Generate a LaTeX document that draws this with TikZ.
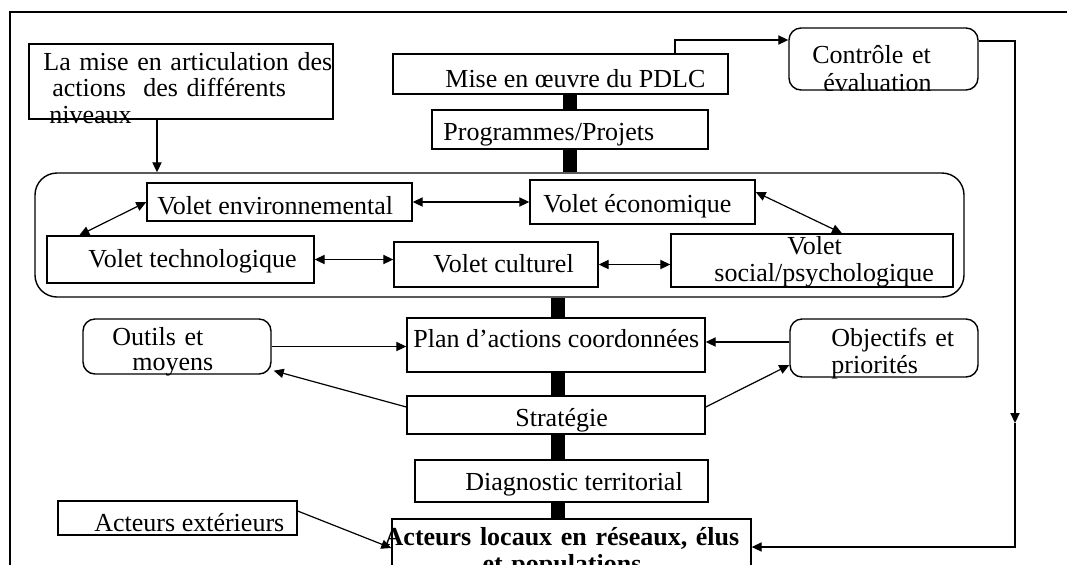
\documentclass[tikz,border=0pt]{standalone}
\usepackage{fontspec}
\setmainfont{Liberation Serif}
\usetikzlibrary{calc,arrows.meta,positioning}
\tikzset{
    box/.style={draw,line width=.7pt,inner sep=0pt},
    rbox/.style={box,rounded corners=6pt},
    txt/.style={inner sep=0pt,anchor=base west,font=\fontsize{13}{15}\selectfont},
    lines/.style={txt,text width=#1,align=left},
    bar/.style={line width=7pt},
    link/.style={line width=.6pt},
    >={Triangle[length=5pt,width=4.6pt]}
}

\begin{document}
\begin{tikzpicture}[x=.5pt,y=-.5pt]
\useasboundingbox (0,0) rectangle (1067,564);
\clip (0,0) rectangle (1067,564);
\draw[line width=1pt] (10,570) -- (10,12) -- (1070,12);

% boxes
\node[box,minimum width=152pt,minimum height=37.5pt] (lamise) at (181,81.5) {};
\node[box,minimum width=167.5pt,minimum height=20pt] (mise) at (560.5,74) {};
\node[box,minimum width=138pt,minimum height=19.5pt] (prog) at (570,129.5) {};
\node[rbox,minimum width=94.5pt,minimum height=31pt] (ctrl) at (883.5,59) {};
\node[box,rounded corners=11pt,minimum width=464.5pt,minimum height=62pt] (grp) at (499.5,235) {};
\node[box,minimum width=132.5pt,minimum height=19pt] (env) at (279.5,202) {};
\node[box,minimum width=112.5pt,minimum height=22pt] (eco) at (642.5,202) {};
\node[box,minimum width=133.5pt,minimum height=23.5pt] (tech) at (180.5,259.5) {};
\node[box,minimum width=102pt,minimum height=22.5pt] (cult) at (496,264.5) {};
\node[box,minimum width=141pt,minimum height=26.5pt] (social) at (812,260.5) {};
\node[rbox,minimum width=94pt,minimum height=27.5pt] (outils) at (177,346.5) {};
\node[box,minimum width=149pt,minimum height=27pt] (plan) at (556,345) {};
\node[rbox,minimum width=94pt,minimum height=29pt] (obj) at (884,348) {};
\node[box,minimum width=149pt,minimum height=19pt] (strat) at (556,415) {};
\node[box,minimum width=146.5pt,minimum height=21pt] (diag) at (561.5,481) {};
\node[box,minimum width=119.5pt,minimum height=17pt] (ext) at (177.5,518) {};
\node[box,minimum width=179.5pt,minimum height=40pt] (loc) at (571.5,559) {};

% texts
\node[lines=160pt,font=\fontsize{13}{13.25}\selectfont] (lamise-t) at (43,70)
    {La mise en articulation des\\\hspace*{4.5pt}actions\ \ des différents\\\hspace*{3pt}niveaux};
\node[txt] (mise-t) at (445,87) {Mise en œuvre du PDLC};
\node[txt] (prog-t) at (443,140) {Programmes/Projets};
\begin{scope}
\clip[rounded corners=6pt] (ctrl.north west) rectangle (ctrl.south east);
\node[lines=90pt,font=\fontsize{13}{14}\selectfont] (ctrl-t) at (812,63) {Contrôle et\\\hspace*{5.5pt}évaluation};
\end{scope}
\node[txt] (env-t) at (157,214) {Volet environnemental};
\node[txt] (eco-t) at (543,212) {Volet économique};
\node[txt] (tech-t) at (88,267) {Volet technologique};
\node[txt] (cult-t) at (433,272) {Volet culturel};
\node[lines=130pt,font=\fontsize{13}{13.5}\selectfont] (social-t) at (714,254) {\hspace*{36.5pt}Volet\\social/psychologique};
\node[lines=90pt,font=\fontsize{13}{12.5}\selectfont] (outils-t) at (112,345) {Outils et\\\hspace*{10pt}moyens};
\node[txt] (plan-t) at (413,347) {Plan d’actions coordonnées};
\node[lines=90pt,font=\fontsize{13}{13.5}\selectfont] (obj-t) at (831,346) {Objectifs et\\priorités};
\node[txt] (strat-t) at (515,426) {Stratégie};
\node[txt] (diag-t) at (465,490) {Diagnostic territorial};
\node[txt] (ext-t) at (94,531) {Acteurs extérieurs};
\node[txt,anchor=base,text width=190pt,align=center,font=\fontsize{13}{13.5}\selectfont\bfseries] (loc-t) at (562,545)
    {Acteurs locaux en réseaux, élus\\et populations};

% thick links
\coordinate (up) at (570,0);
\coordinate (lo) at (558,0);
\foreach \a/\b in {mise/prog,prog/grp}
    \draw[bar] (\a.south -| up) -- (\b.north -| up);
\foreach \a/\b in {grp/plan,plan/strat,strat/diag,diag/loc}
    \draw[bar] (\a.south -| lo) -- (\b.north -| lo);

% arrows
\coordinate (c1) at (157,0);
\draw[link,->] (lamise.south -| c1) -- (grp.north -| c1);
\draw[link,<->] (env.west) -- ($(tech.north west)+(33,0)$);
\draw[link,<->] (env.east) -- (eco.west);
\draw[link,<->] ($(eco.east)+(0,-10)$) -- ($(social.north)+(30,0)$);
\draw[link,<->] (tech.east) -- (tech.east -| cult.west);
\draw[link,<->] (cult.east) -- (cult.east -| social.west);
\draw[link,->] (outils.east) -- (outils.east -| plan.west);
\coordinate (objw) at ($(obj.west)+(0,-6)$);
\draw[link,->] (objw) -- (objw -| plan.east);
\draw[link,->] ($(strat.west)+(0,-8)$) -- ($(outils.south east)+(2,-4)$);
\draw[link,->] ($(strat.east)+(0,-8)$) -- ($(obj.west)+(0,17)$);
\draw[link,->] ($(ext.east)+(0,-7)$) -- ($(loc.west)+(0,-11)$);

% control loop
\coordinate (k1) at (675,40);
\coordinate (k2) at (1015,41);
\coordinate (k3) at (1015,423);
\draw[link,->] (mise.north -| k1) |- (ctrl.west |- k1);
\draw[link,->] (ctrl.east |- k2) -| (k3);
\draw[link,->] (k3) |- ($(loc.east)+(0,-12)$);
\end{tikzpicture}
\end{document}
